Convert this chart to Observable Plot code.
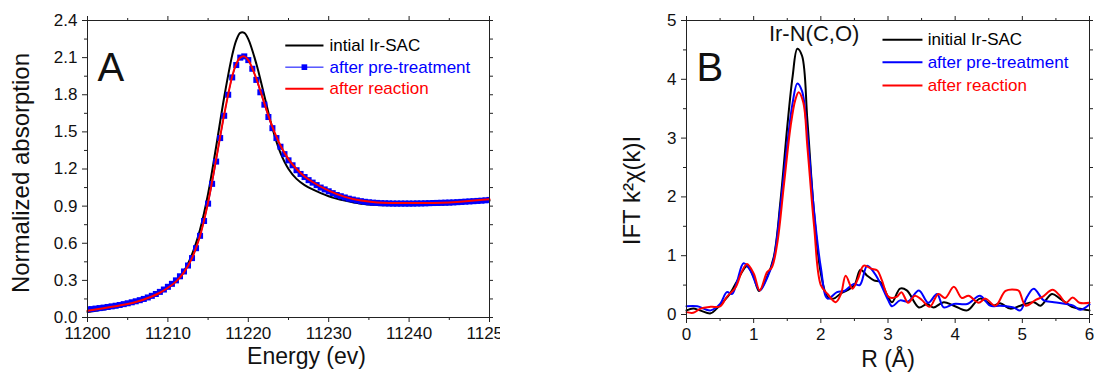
<!DOCTYPE html>
<html><head><meta charset="utf-8">
<script src="https://cdn.jsdelivr.net/npm/d3@7"></script>
<script src="https://cdn.jsdelivr.net/npm/@observablehq/plot@0.6"></script>
<style>
body{margin:0;background:#fff;}
#wrap{position:relative;width:1094px;height:379px;overflow:hidden;background:#fff;}
#a{position:absolute;left:0;top:0;width:500px;height:379px;overflow:hidden;}
#b{position:absolute;left:500px;top:0;width:594px;height:379px;overflow:hidden;}
</style></head><body><div id="wrap"><div id="a"></div><div id="b"></div></div>
<script>
// ---------- Panel A data (XANES) ----------
const energyA = [11200, 11202, 11204, 11206, 11208, 11209, 11210, 11211, 11212, 11213, 11214, 11215, 11216, 11217, 11218, 11218.5, 11219, 11219.5, 11220, 11221, 11222, 11223, 11224, 11225, 11226, 11227, 11228, 11230, 11232, 11234, 11236, 11240, 11245, 11250];
const initialA = [0.045, 0.065, 0.088, 0.118, 0.165, 0.197, 0.24, 0.295, 0.375, 0.51, 0.71, 1.00, 1.38, 1.78, 2.12, 2.24, 2.30, 2.30, 2.25, 2.05, 1.79, 1.53, 1.33, 1.20, 1.12, 1.07, 1.035, 0.98, 0.945, 0.92, 0.91, 0.907, 0.915, 0.945];
const reactionA = [0.055, 0.075, 0.097, 0.125, 0.17, 0.20, 0.24, 0.29, 0.365, 0.48, 0.66, 0.93, 1.28, 1.64, 1.95, 2.05, 2.10, 2.11, 2.08, 1.93, 1.73, 1.54, 1.39, 1.28, 1.20, 1.14, 1.095, 1.025, 0.975, 0.945, 0.93, 0.925, 0.93, 0.955];
const energyPreA = [
  11200, 11200.5, 11201, 11201.5, 11202, 11202.5, 11203, 11203.5, 11204, 11204.5,
  11205, 11205.5, 11206, 11206.5, 11207, 11207.5, 11208, 11208.5, 11209, 11209.5,
  11210, 11210.5, 11211, 11211.5, 11212, 11212.5, 11213, 11213.5, 11214, 11214.5,
  11215, 11215.5, 11216, 11216.5, 11217, 11217.5, 11218, 11218.5, 11219, 11219.5,
  11220, 11220.5, 11221, 11221.5, 11222, 11222.5, 11223, 11223.5, 11224, 11224.5,
  11225, 11225.5, 11226, 11226.5, 11227, 11227.5, 11228, 11228.5, 11229, 11229.5,
  11230, 11230.5, 11231, 11231.5, 11232, 11232.5, 11233, 11233.5, 11234, 11234.5,
  11235, 11235.5, 11236, 11236.5, 11237, 11237.5, 11238, 11238.5, 11239, 11239.5,
  11240, 11240.5, 11241, 11241.5, 11242, 11242.5, 11243, 11243.5, 11244, 11244.5,
  11245, 11245.5, 11246, 11246.5, 11247, 11247.5, 11248, 11248.5, 11249, 11249.5,
  11250];
const pretreatA = [
  0.065, 0.068, 0.072, 0.076, 0.080, 0.085, 0.090, 0.095, 0.101, 0.108,
  0.115, 0.123, 0.131, 0.140, 0.150, 0.162, 0.175, 0.190, 0.207, 0.226,
  0.248, 0.272, 0.300, 0.333, 0.372, 0.42, 0.48, 0.56, 0.66, 0.78,
  0.92, 1.08, 1.26, 1.45, 1.63, 1.80, 1.94, 2.04, 2.10, 2.11,
  2.08, 2.01, 1.92, 1.82, 1.72, 1.62, 1.53, 1.45, 1.38, 1.32,
  1.27, 1.23, 1.19, 1.16, 1.135, 1.11, 1.09, 1.07, 1.05, 1.035,
  1.02, 1.005, 0.99, 0.98, 0.97, 0.96, 0.953, 0.946, 0.94, 0.935,
  0.931, 0.928, 0.926, 0.924, 0.923, 0.922, 0.921, 0.921, 0.921, 0.921,
  0.921, 0.921, 0.922, 0.922, 0.923, 0.924, 0.925, 0.926, 0.927, 0.928,
  0.929, 0.93, 0.932, 0.934, 0.936, 0.938, 0.94, 0.942, 0.944, 0.947,
  0.95];
const xMajorA = [11200, 11210, 11220, 11230, 11240, 11250];
const xMinorA = [11205, 11215, 11225, 11235, 11245];
const yMajorA = [0, 0.3, 0.6, 0.9, 1.2, 1.5, 1.8, 2.1, 2.4];
const yMinorA = [0.15, 0.45, 0.75, 1.05, 1.35, 1.65, 1.95, 2.25];
const legendA = ["intial Ir-SAC", "after pre-treatment", "after reaction"];

// ---------- Panel B data (FT-EXAFS) ----------
const rInitial = [0, 0.1, 0.2, 0.36, 0.45, 0.55, 0.65, 0.75, 0.9, 1.0, 1.08, 1.2, 1.3, 1.4, 1.5, 1.58, 1.65, 1.72, 1.8, 1.9, 2.0, 2.1, 2.19, 2.3, 2.39, 2.5, 2.59, 2.69, 2.79, 2.89, 2.99, 3.06, 3.18, 3.28, 3.46, 3.58, 3.68, 3.83, 3.98, 4.18, 4.37, 4.57, 4.67, 4.82, 4.97, 5.17, 5.27, 5.44, 5.56, 5.76, 5.9, 6.0];
const kInitial = [0.07, 0.1, 0.07, 0.02, 0.1, 0.22, 0.36, 0.56, 0.82, 0.64, 0.4, 0.64, 0.98, 1.94, 3.19, 4.05, 4.52, 4.4, 3.3, 1.72, 0.7, 0.3, 0.27, 0.36, 0.41, 0.5, 0.76, 0.66, 0.58, 0.55, 0.32, 0.21, 0.44, 0.41, 0.12, 0.18, 0.12, 0.21, 0.15, 0.07, 0.27, 0.15, 0.19, 0.1, 0.15, 0.21, 0.15, 0.35, 0.27, 0.12, 0.09, 0.07];
const rPretreat = [0, 0.16, 0.36, 0.5, 0.6, 0.68, 0.75, 0.85, 0.95, 1.09, 1.2, 1.3, 1.4, 1.5, 1.58, 1.65, 1.72, 1.8, 1.9, 2.0, 2.1, 2.24, 2.35, 2.49, 2.58, 2.69, 2.8, 2.89, 3.0, 3.06, 3.18, 3.3, 3.46, 3.6, 3.73, 3.83, 3.98, 4.18, 4.37, 4.52, 4.67, 4.87, 4.97, 5.07, 5.17, 5.32, 5.47, 5.76, 5.86, 6.0];
const kPretreat = [0.14, 0.14, 0.07, 0.18, 0.38, 0.35, 0.55, 0.87, 0.75, 0.41, 0.62, 0.95, 1.85, 2.9, 3.6, 3.93, 3.8, 3.05, 1.75, 0.8, 0.27, 0.38, 0.4, 0.52, 0.5, 0.83, 0.7, 0.52, 0.25, 0.14, 0.24, 0.22, 0.41, 0.2, 0.35, 0.12, 0.18, 0.18, 0.32, 0.15, 0.15, 0.12, 0.07, 0.3, 0.44, 0.24, 0.21, 0.15, 0.08, 0.17];
const rReaction = [0, 0.1, 0.21, 0.36, 0.5, 0.6, 0.73, 0.82, 0.9, 1.0, 1.09, 1.2, 1.27, 1.35, 1.45, 1.55, 1.62, 1.67, 1.74, 1.8, 1.9, 2.0, 2.1, 2.22, 2.3, 2.37, 2.47, 2.55, 2.64, 2.75, 2.84, 2.91, 3.01, 3.13, 3.2, 3.3, 3.4, 3.5, 3.62, 3.75, 3.85, 3.98, 4.1, 4.2, 4.35, 4.45, 4.6, 4.75, 4.9, 4.95, 5.05, 5.2, 5.3, 5.45, 5.55, 5.65, 5.75, 5.85, 6.0];
const kReaction = [0.04, 0.03, 0.1, 0.13, 0.14, 0.3, 0.46, 0.72, 0.86, 0.7, 0.41, 0.72, 0.8, 1.2, 2.2, 3.2, 3.65, 3.78, 3.6, 2.85, 1.5, 0.5, 0.35, 0.21, 0.35, 0.66, 0.44, 0.6, 0.83, 0.78, 0.75, 0.58, 0.3, 0.3, 0.38, 0.2, 0.32, 0.25, 0.13, 0.35, 0.28, 0.47, 0.28, 0.32, 0.2, 0.27, 0.15, 0.4, 0.42, 0.4, 0.15, 0.25, 0.3, 0.42, 0.33, 0.2, 0.29, 0.2, 0.2];
const xMajorB = [0, 1, 2, 3, 4, 5, 6];
const xMinorB = [0.5, 1.5, 2.5, 3.5, 4.5, 5.5];
const yMajorB = [0, 1, 2, 3, 4, 5];
const yMinorB = [0.5, 1.5, 2.5, 3.5, 4.5];
const legendB = ["initial Ir-SAC", "after pre-treatment", "after reaction"];
const peakLabel = "Ir-N(C,O)";

const seriesColors = ["#000000", "#0000ff", "#ff0000"];

// ---------- helpers ----------
const ink = "#222";
const font = '"Liberation Sans", Arial, Helvetica, sans-serif';
const tickFont = 17;
const pts = (xs, ys) => xs.map((x, i) => ({x, y: ys[i]}));
const blank = () => "";
function ticksAll(xMaj, xMin, yMaj, yMin, xFmt, yFmt) {
  return [
    Plot.axisX({anchor: "bottom", ticks: xMaj, tickSize: 5, tickPadding: 4, tickFormat: xFmt, label: null, stroke: ink, fontSize: tickFont, fill: "#111"}),
    Plot.axisX({anchor: "bottom", ticks: xMin, tickSize: 3, tickFormat: blank, label: null, stroke: ink}),
    Plot.axisX({anchor: "top", ticks: xMaj, tickSize: 5, tickFormat: blank, label: null, stroke: ink}),
    Plot.axisX({anchor: "top", ticks: xMin, tickSize: 3, tickFormat: blank, label: null, stroke: ink}),
    Plot.axisY({anchor: "left", ticks: yMaj, tickSize: 5, tickPadding: 5, tickFormat: yFmt, label: null, stroke: ink, fontSize: tickFont, fill: "#111"}),
    Plot.axisY({anchor: "left", ticks: yMin, tickSize: 3, tickFormat: blank, label: null, stroke: ink}),
    Plot.axisY({anchor: "right", ticks: yMaj, tickSize: 3, tickFormat: blank, label: null, stroke: ink}),
    Plot.axisY({anchor: "right", ticks: yMin, tickSize: 3, tickFormat: blank, label: null, stroke: ink})
  ];
}

// ---------- Panel A ----------
// legend placement (data units of panel A)
const legA = {x1: 11224.6, x2: 11229.35, xt: 11230.1, rows: [2.198, 2.023, 1.848]};
const legAData = legendA.map((name, i) => ({name, color: seriesColors[i], y: legA.rows[i], x1: legA.x1, x2: legA.x2, xt: legA.xt, xm: (legA.x1 + legA.x2) / 2}));

const plotA = Plot.plot({
  width: 500, height: 379,
  marginLeft: 87, marginRight: 11, marginTop: 20, marginBottom: 62,
  style: {fontFamily: font, fontSize: "16px", color: "#111", background: "white"},
  x: {domain: [11200, 11250]},
  y: {domain: [0, 2.4]},
  marks: [
    ...ticksAll(xMajorA, xMinorA, yMajorA, yMinorA, d => `${d}`, d3.format(".1f")),
    Plot.line(pts(energyA, initialA), {x: "x", y: "y", stroke: seriesColors[0], strokeWidth: 2, curve: "catmull-rom"}),
    Plot.line(pts(energyPreA, pretreatA), {x: "x", y: "y", stroke: seriesColors[1], strokeWidth: 1, curve: "catmull-rom"}),
    Plot.dot(pts(energyPreA, pretreatA), {x: "x", y: "y", symbol: "square", r: 3.4, fill: seriesColors[1], clip: true}),
    Plot.line(pts(energyA, reactionA), {x: "x", y: "y", stroke: seriesColors[2], strokeWidth: 2, curve: "catmull-rom"}),
    Plot.frame({stroke: ink}),
    // legend
    Plot.link(legAData, {x1: "x1", x2: "x2", y1: "y", y2: "y", stroke: "color", strokeWidth: d => d.color === seriesColors[1] ? 1 : 2}),
    Plot.dot(legAData.filter(d => d.color === seriesColors[1]), {x: "xm", y: "y", symbol: "square", r: 3.2, fill: "color"}),
    Plot.text(legAData, {x: "xt", y: "y", text: "name", fill: "color", textAnchor: "start", fontSize: 17}),
    // panel letter & axis titles
    Plot.text(["A"], {frameAnchor: "top-left", dx: 10, dy: 32, fontSize: 40, textAnchor: "start"}),
    Plot.text(["Normalized absorption"], {frameAnchor: "left", textAnchor: "middle", rotate: -90, dx: -66, dy: 4, fontSize: 24}),
    Plot.text(["Energy (ev)"], {frameAnchor: "bottom", textAnchor: "middle", dx: 18, dy: 46, fontSize: 23})
  ]
});
document.getElementById("a").appendChild(plotA);

// ---------- Panel B ----------
const legB = {x1: 2.918, x2: 3.513, xt: 3.59, rows: [4.672, 4.291, 3.895]};
const legBData = legendB.map((name, i) => ({name, color: seriesColors[i], y: legB.rows[i], x1: legB.x1, x2: legB.x2, xt: legB.xt}));

const plotB = Plot.plot({
  width: 594, height: 379,
  marginLeft: 186, marginRight: 5, marginTop: 20, marginBottom: 61,
  style: {fontFamily: font, fontSize: "16px", color: "#111", background: "white"},
  x: {domain: [0, 6]},
  y: {domain: [-0.068, 5]},
  marks: [
    ...ticksAll(xMajorB, xMinorB, yMajorB, yMinorB, d => `${d}`, d => `${d}`),
    Plot.line(pts(rInitial, kInitial), {x: "x", y: "y", stroke: seriesColors[0], strokeWidth: 2, curve: "catmull-rom"}),
    Plot.line(pts(rPretreat, kPretreat), {x: "x", y: "y", stroke: seriesColors[1], strokeWidth: 2, curve: "catmull-rom"}),
    Plot.line(pts(rReaction, kReaction), {x: "x", y: "y", stroke: seriesColors[2], strokeWidth: 2, curve: "catmull-rom"}),
    Plot.frame({stroke: ink}),
    Plot.link(legBData, {x1: "x1", x2: "x2", y1: "y", y2: "y", stroke: "color", strokeWidth: 2}),
    Plot.text(legBData, {x: "xt", y: "y", text: "name", fill: "color", textAnchor: "start", fontSize: 17}),
    Plot.text([peakLabel], {x: 1.9, y: 4.77, fontSize: 22, textAnchor: "middle"}),
    Plot.text(["B"], {frameAnchor: "top-left", dx: 10, dy: 32, fontSize: 40, textAnchor: "start"}),
    Plot.text(["IFT k²χ(k)I"], {frameAnchor: "left", textAnchor: "middle", rotate: -90, dx: -54, dy: 21, fontSize: 24}),
    Plot.text(["R (Å)"], {frameAnchor: "bottom", textAnchor: "middle", dy: 48, fontSize: 23})
  ]
});
document.getElementById("b").appendChild(plotB);
</script></body></html>
